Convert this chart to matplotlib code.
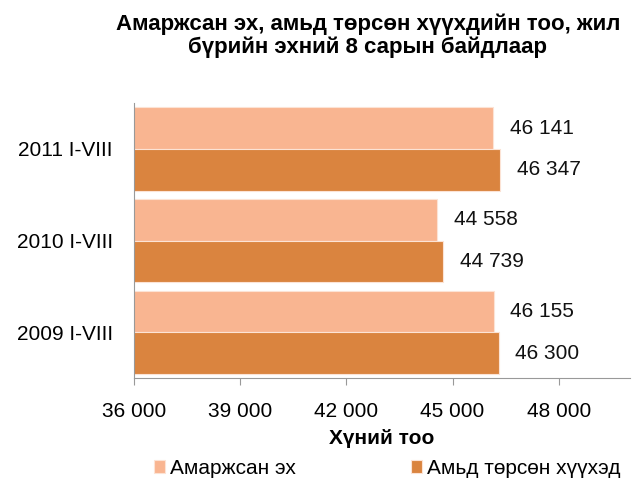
import numpy as np
import matplotlib
matplotlib.use('Agg')
import matplotlib.pyplot as plt
from matplotlib.ticker import FuncFormatter

plt.rcParams['font.family'] = ['Liberation Sans', 'DejaVu Sans']

# Data (bottom to top)
categories = ['2009 I-VIII', '2010 I-VIII', '2011 I-VIII']
mothers = [46155, 44558, 46141]      # Амаржсан эх
births = [46300, 44739, 46347]       # Амьд төрсөн хүүхэд
series_names = ['Амаржсан эх', 'Амьд төрсөн хүүхэд']
xticks = [36000, 39000, 42000, 45000, 48000]

light = '#F9B591'
dark = '#DA843F'

fig = plt.figure(figsize=(6.4, 4.91), dpi=100)
ax = fig.add_axes([0.209, 0.230, 0.775, 0.560])

y = np.arange(len(categories))
h = 0.455
b1 = ax.barh(y + h / 2, mothers, height=h, left=0, color=light,
             edgecolor='#FCE3D5', linewidth=0.8, label=series_names[0])
b2 = ax.barh(y - h / 2, births, height=h, left=0, color=dark,
             edgecolor='#FCE3D5', linewidth=0.8, label=series_names[1])

fmt = lambda v: f'{v:,.0f}'.replace(',', ' ')
for bars, vals in ((b1, mothers), (b2, births)):
    for rect, v in zip(bars, vals):
        ax.annotate(fmt(v), (v, rect.get_y() + rect.get_height() / 2),
                    xytext=(12, 0), textcoords='offset points',
                    va='center', ha='left', fontsize=15, color='#111111')

ax.set_xlim(36000, 50000)
ax.set_ylim(-0.5, 2.5)
ax.set_xticks(xticks)
ax.xaxis.set_major_formatter(FuncFormatter(lambda v, p: fmt(v)))
ax.set_yticks(y)
ax.set_yticklabels(categories)
ax.tick_params(axis='x', labelsize=15, length=5, color='#999999', pad=12,
               direction='out')
ax.tick_params(axis='y', labelsize=15, length=0, pad=15)
for s in ('top', 'right'):
    ax.spines[s].set_visible(False)
ax.spines['left'].set_color('#999999')
ax.spines['bottom'].set_color('#999999')

ax.set_xlabel('Хүний тоо', fontsize=15, fontweight='bold', labelpad=6)

fig.suptitle('Амаржсан эх, амьд төрсөн хүүхдийн тоо, жил\nбүрийн эхний 8 сарын байдлаар',
             x=0.575, y=0.972, fontsize=16, fontweight='bold', linespacing=1.1)

fig.legend(handles=[b1, b2], labels=series_names, loc='lower center',
           bbox_to_anchor=(0.605, -0.012), ncol=2, frameon=False, fontsize=15,
           handlelength=0.55, handleheight=0.55, handletextpad=0.25,
           columnspacing=5.5)

fig.savefig('out.png', dpi=100)
